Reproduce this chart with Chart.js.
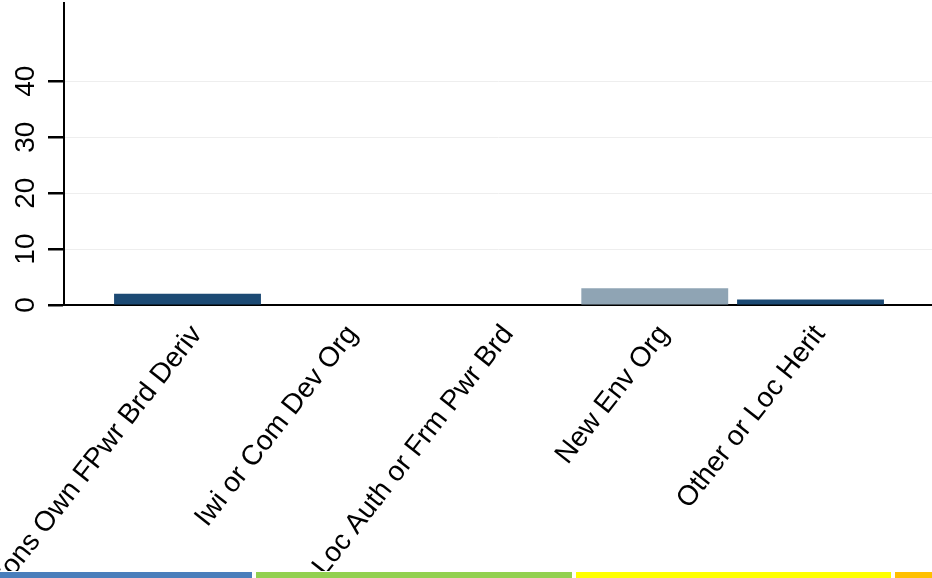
<!DOCTYPE html>
<html>
<head>
<meta charset="utf-8">
<script src="https://cdn.jsdelivr.net/npm/chart.js@4"></script>
<style>
  html, body { margin: 0; padding: 0; background: #fff; }
  #wrap { position: relative; width: 932px; height: 578px; overflow: hidden; }
  #box { position: absolute; left: 0; top: 0; width: 932px; height: 571px; }
  .strip { position: absolute; top: 572px; height: 6px; }
</style>
</head>
<body>
<div id="wrap">
  <div id="box"><canvas id="orgChart"></canvas></div>
  <div class="strip" style="left:0;width:252px;background:#4a7ebb"></div>
  <div class="strip" style="left:256px;width:316px;background:#92d050"></div>
  <div class="strip" style="left:576px;width:315px;background:#ffff00"></div>
  <div class="strip" style="left:895px;width:37px;background:#ffc000"></div>
</div>
<script>
// ====== DATA ======
const categories = [
    'Cons Own FPwr Brd Deriv',
    'Iwi or Com Dev Org',
    'Loc Auth or Frm Pwr Brd',
    'New Env Org',
    'Other or Loc Herit'
];
const counts = [2, 0, 0, 3, 1];
const yTicks = [0, 10, 20, 30, 40];

const NAVY = '#1c4a74';
const LIGHT = '#8fa4b4';
const barColors = [NAVY, NAVY, NAVY, LIGHT, NAVY];

const FONT = "'Liberation Sans', Arial, sans-serif";
// rotated labels sit a little right of the category centre
const LABEL_SHIFT = 0.06;
const Y_TICK_LEN = 16;

// ====== Y TICK MARKS ======
// short black marks left of the y axis at every labelled value
const yTickMarks = {
    id: 'yTickMarks',
    afterDraw(chart) {
        const y = chart.scales.y;
        const c = chart.ctx;
        c.save();
        c.strokeStyle = '#000';
        c.lineWidth = 2;
        yTicks.forEach(v => {
            const py = Math.round(y.getPixelForValue(v));
            c.beginPath();
            c.moveTo(y.right - Y_TICK_LEN, py);
            c.lineTo(y.right, py);
            c.stroke();
        });
        c.restore();
    }
};

// ====== CHART ======
const ctx = document.getElementById('orgChart');
const chart = new Chart(ctx, {
    type: 'bar',
    data: {
        datasets: [{
            data: counts.map((v, i) => ({ x: i, y: v })),
            backgroundColor: barColors,
            borderWidth: 0,
            categoryPercentage: 1,
            barPercentage: 0.943
        }]
    },
    options: {
        responsive: true,
        maintainAspectRatio: false,
        animation: false,
        layout: { padding: { top: 3, right: 0, left: 0, bottom: 0 } },
        plugins: {
            legend: { display: false },
            tooltip: { enabled: false }
        },
        scales: {
            x: {
                type: 'linear',
                offset: false,
                min: -0.793,
                max: 4.78,
                afterBuildTicks: s => { s.ticks = categories.map((c, i) => ({ value: i + LABEL_SHIFT })); },
                afterFit: s => {
                    s.height = 571 - 305;
                    s.paddingLeft = 0;
                    s.paddingRight = 0;
                },
                ticks: {
                    autoSkip: false,
                    minRotation: 52,
                    maxRotation: 52,
                    padding: 14,
                    color: '#000',
                    font: { family: FONT, size: 28 },
                    callback: v => categories[Math.round(v)]
                },
                grid: { display: false, drawTicks: false },
                border: { color: '#000', width: 2 }
            },
            y: {
                min: 0,
                max: 54,
                afterFit: s => {
                    s.width = 64;
                    s.paddingTop = 0;
                    s.paddingBottom = 0;
                },
                afterBuildTicks: s => { s.ticks = yTicks.map(v => ({ value: v })); },
                ticks: {
                    minRotation: 90,
                    maxRotation: 90,
                    crossAlign: 'center',
                    padding: 6,
                    color: '#000',
                    font: { family: FONT, size: 28 }
                },
                grid: {
                    color: c => (c.tick && c.tick.value === 0) ? 'rgba(0,0,0,0)' : '#eeeeee',
                    lineWidth: 1,
                    tickLength: Y_TICK_LEN,
                    tickColor: '#000',
                    tickWidth: 2
                },
                border: { color: '#000', width: 2 }
            }
        }
    },
    plugins: [yTickMarks]
});
</script>
</body>
</html>
